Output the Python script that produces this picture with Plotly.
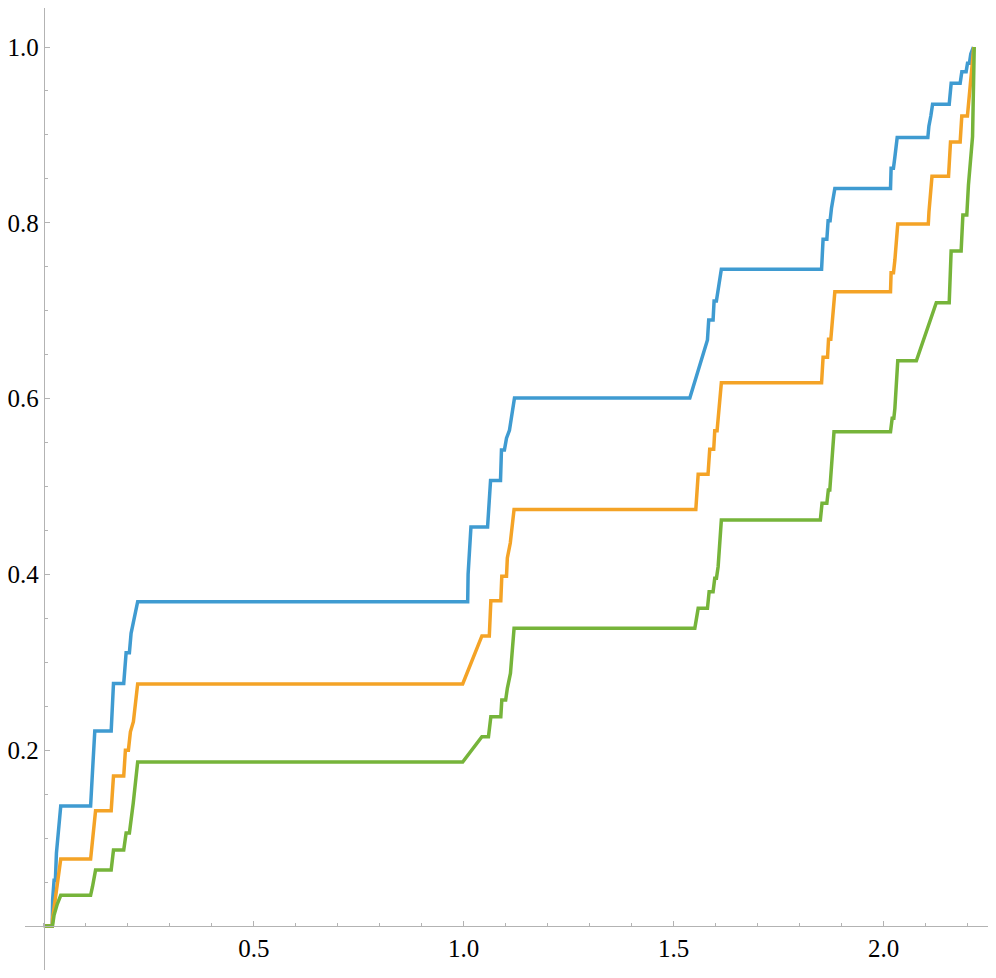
import plotly.graph_objects as go

# ---- data (x, cumulative value) ----
blue_x = [0, 0.020, 0.021, 0.0244, 0.0275, 0.030, 0.0403, 0.1114, 0.117, 0.1214,
          0.1604, 0.1659, 0.1903, 0.196, 0.2038, 0.2078, 0.213, 0.2235,
          1.0095, 1.0105, 1.0173, 1.0569, 1.064, 1.0877, 1.090, 1.097, 1.102, 1.109, 1.121,
          1.5386, 1.5806, 1.5836, 1.594, 1.5964, 1.6019, 1.6059, 1.6137,
          1.8524, 1.856, 1.865, 1.868, 1.8727, 1.876, 1.884,
          2.0166, 2.018, 2.0236, 2.027, 2.0325,
          2.1055, 2.108, 2.1126, 2.1168, 2.1564, 2.1611, 2.1825, 2.1865,
          2.1967, 2.2000, 2.2045, 2.2078, 2.214]
blue_y = [0, 0, 0.030, 0.052, 0.052, 0.083, 0.1365, 0.1365, 0.185, 0.222,
          0.222, 0.276, 0.276, 0.311, 0.311, 0.333, 0.345, 0.369,
          0.369, 0.400, 0.454, 0.454, 0.507, 0.507, 0.5415, 0.5415, 0.555, 0.564, 0.6007,
          0.6007, 0.6667, 0.6894, 0.6894, 0.711, 0.711, 0.7235, 0.7471,
          0.7471, 0.7812, 0.7812, 0.8024, 0.8024, 0.8165, 0.839,
          0.839, 0.862, 0.862, 0.875, 0.897,
          0.897, 0.910, 0.9215, 0.935, 0.935, 0.9587, 0.9587, 0.972,
          0.972, 0.9815, 0.9815, 0.992, 1.0]

orange_x = [0, 0.020, 0.021, 0.0244, 0.0403, 0.1114, 0.1153, 0.1232,
            0.1604, 0.1659, 0.1903, 0.1943, 0.2014, 0.2062, 0.2133, 0.2235,
            0.9976, 1.0434, 1.061, 1.0647, 1.0884, 1.0908, 1.102, 1.104, 1.111, 1.120,
            1.5529, 1.5585, 1.582, 1.586, 1.5955, 1.598, 1.6035, 1.606, 1.6137,
            1.8524, 1.856, 1.8666, 1.869, 1.8744, 1.8768, 1.884,
            2.0166, 2.018, 2.0237, 2.027, 2.0339,
            2.1066, 2.1082, 2.1154, 2.1548, 2.1595, 2.1825, 2.1864,
            2.1998, 2.2038, 2.2078, 2.215]
orange_y = [0, 0, 0.009, 0.022, 0.0762, 0.0762, 0.092, 0.1312,
            0.1312, 0.1706, 0.1706, 0.200, 0.200, 0.221, 0.2324, 0.2755,
            0.2755, 0.330, 0.330, 0.370, 0.370, 0.398, 0.398, 0.4187, 0.4357, 0.4740,
            0.4740, 0.5139, 0.5139, 0.5423, 0.5423, 0.5635, 0.5635, 0.5776, 0.6181,
            0.6181, 0.647, 0.647, 0.6675, 0.6675, 0.6818, 0.7216,
            0.7216, 0.7432, 0.7432, 0.7577, 0.7986,
            0.7986, 0.8126, 0.853, 0.853, 0.892, 0.892, 0.9215,
            0.9215, 0.9435, 0.970, 1.0]

green_x = [0, 0.0206, 0.0244, 0.032, 0.0403, 0.1114, 0.116, 0.120, 0.1232,
           0.1604, 0.1659, 0.1903, 0.196, 0.2038, 0.2078, 0.213, 0.2235,
           0.9976, 1.0434, 1.059, 1.0647, 1.0884, 1.0908, 1.100, 1.104, 1.1114, 1.120,
           1.5505, 1.5585, 1.5806, 1.5846, 1.594, 1.598, 1.602, 1.606, 1.6137,
           1.8495, 1.8535, 1.8650, 1.8685, 1.8720, 1.8760, 1.882,
           2.0166, 2.0206, 2.0245, 2.027, 2.0339, 2.0782, 2.1256,
           2.1564, 2.161, 2.1848, 2.189, 2.1983, 2.2022, 2.2078, 2.212, 2.216]
green_y = [0, 0, 0.0125, 0.025, 0.035, 0.035, 0.045, 0.058, 0.0637,
           0.0637, 0.0865, 0.0865, 0.1058, 0.1058, 0.120, 0.140, 0.1865,
           0.1865, 0.2154, 0.2154, 0.238, 0.238, 0.2571, 0.2571, 0.2704, 0.2875, 0.3387,
           0.3387, 0.3614, 0.3614, 0.3803, 0.3803, 0.3956, 0.3956, 0.4088, 0.4619,
           0.4619, 0.4809, 0.4809, 0.496, 0.496, 0.5188, 0.5623,
           0.5623, 0.5776, 0.5776, 0.589, 0.6431, 0.6431, 0.7091,
           0.7091, 0.768, 0.768, 0.8089, 0.8089, 0.8430, 0.8695, 0.898, 1.0]

x_ticks = [0.5, 1.0, 1.5, 2.0]
x_tick_text = ["0.5", "1.0", "1.5", "2.0"]
y_ticks = [0.2, 0.4, 0.6, 0.8, 1.0]
y_tick_text = ["0.2", "0.4", "0.6", "0.8", "1.0"]

series = [
    (blue_x, blue_y, "#3f9bd1"),
    (orange_x, orange_y, "#f4a326"),
    (green_x, green_y, "#76b43a"),
]

fig = go.Figure()
for xs, ys, col in series:
    fig.add_trace(go.Scatter(x=xs, y=ys, mode="lines",
                             line=dict(color=col, width=3.5), showlegend=False,
                             hoverinfo="skip"))

# page has an 8px body margin; figure sized to fit the 996x978 window
W, H = 980, 962
axis_col = "#b3b3b3"
serif = "Liberation Serif"
font = dict(family=serif, size=25, color="black")

fig.update_layout(
    width=W, height=H,
    font=dict(family=serif, size=25, color="black"),
    margin=dict(l=0, r=0, t=0, b=0),
    paper_bgcolor="white", plot_bgcolor="white",
    xaxis=dict(
        domain=[12 / W, 1.0], range=[-0.045, 2.2488],
        anchor="free", position=(962 - 918) / H,
        showline=True, linecolor=axis_col, linewidth=1,
        showgrid=False, zeroline=False,
        tickvals=x_ticks, ticktext=x_tick_text,
        ticks="inside", ticklen=5, tickcolor=axis_col, tickwidth=1,
        tickfont=font,
        minor=dict(ticks="inside", ticklen=3, tickcolor=axis_col, dtick=0.1, tick0=0),
    ),
    yaxis=dict(
        domain=[0, 1], range=[-0.05, 1.0444],
        anchor="free", position=31 / W,
        showline=True, linecolor=axis_col, linewidth=1,
        showgrid=False, zeroline=False,
        tickvals=y_ticks, ticktext=y_tick_text,
        ticks="inside", ticklen=5, tickcolor=axis_col, tickwidth=1,
        tickfont=font,
        minor=dict(ticks="inside", ticklen=3, tickcolor=axis_col, dtick=0.05, tick0=0),
    ),
)

fig.write_html("out.html")
